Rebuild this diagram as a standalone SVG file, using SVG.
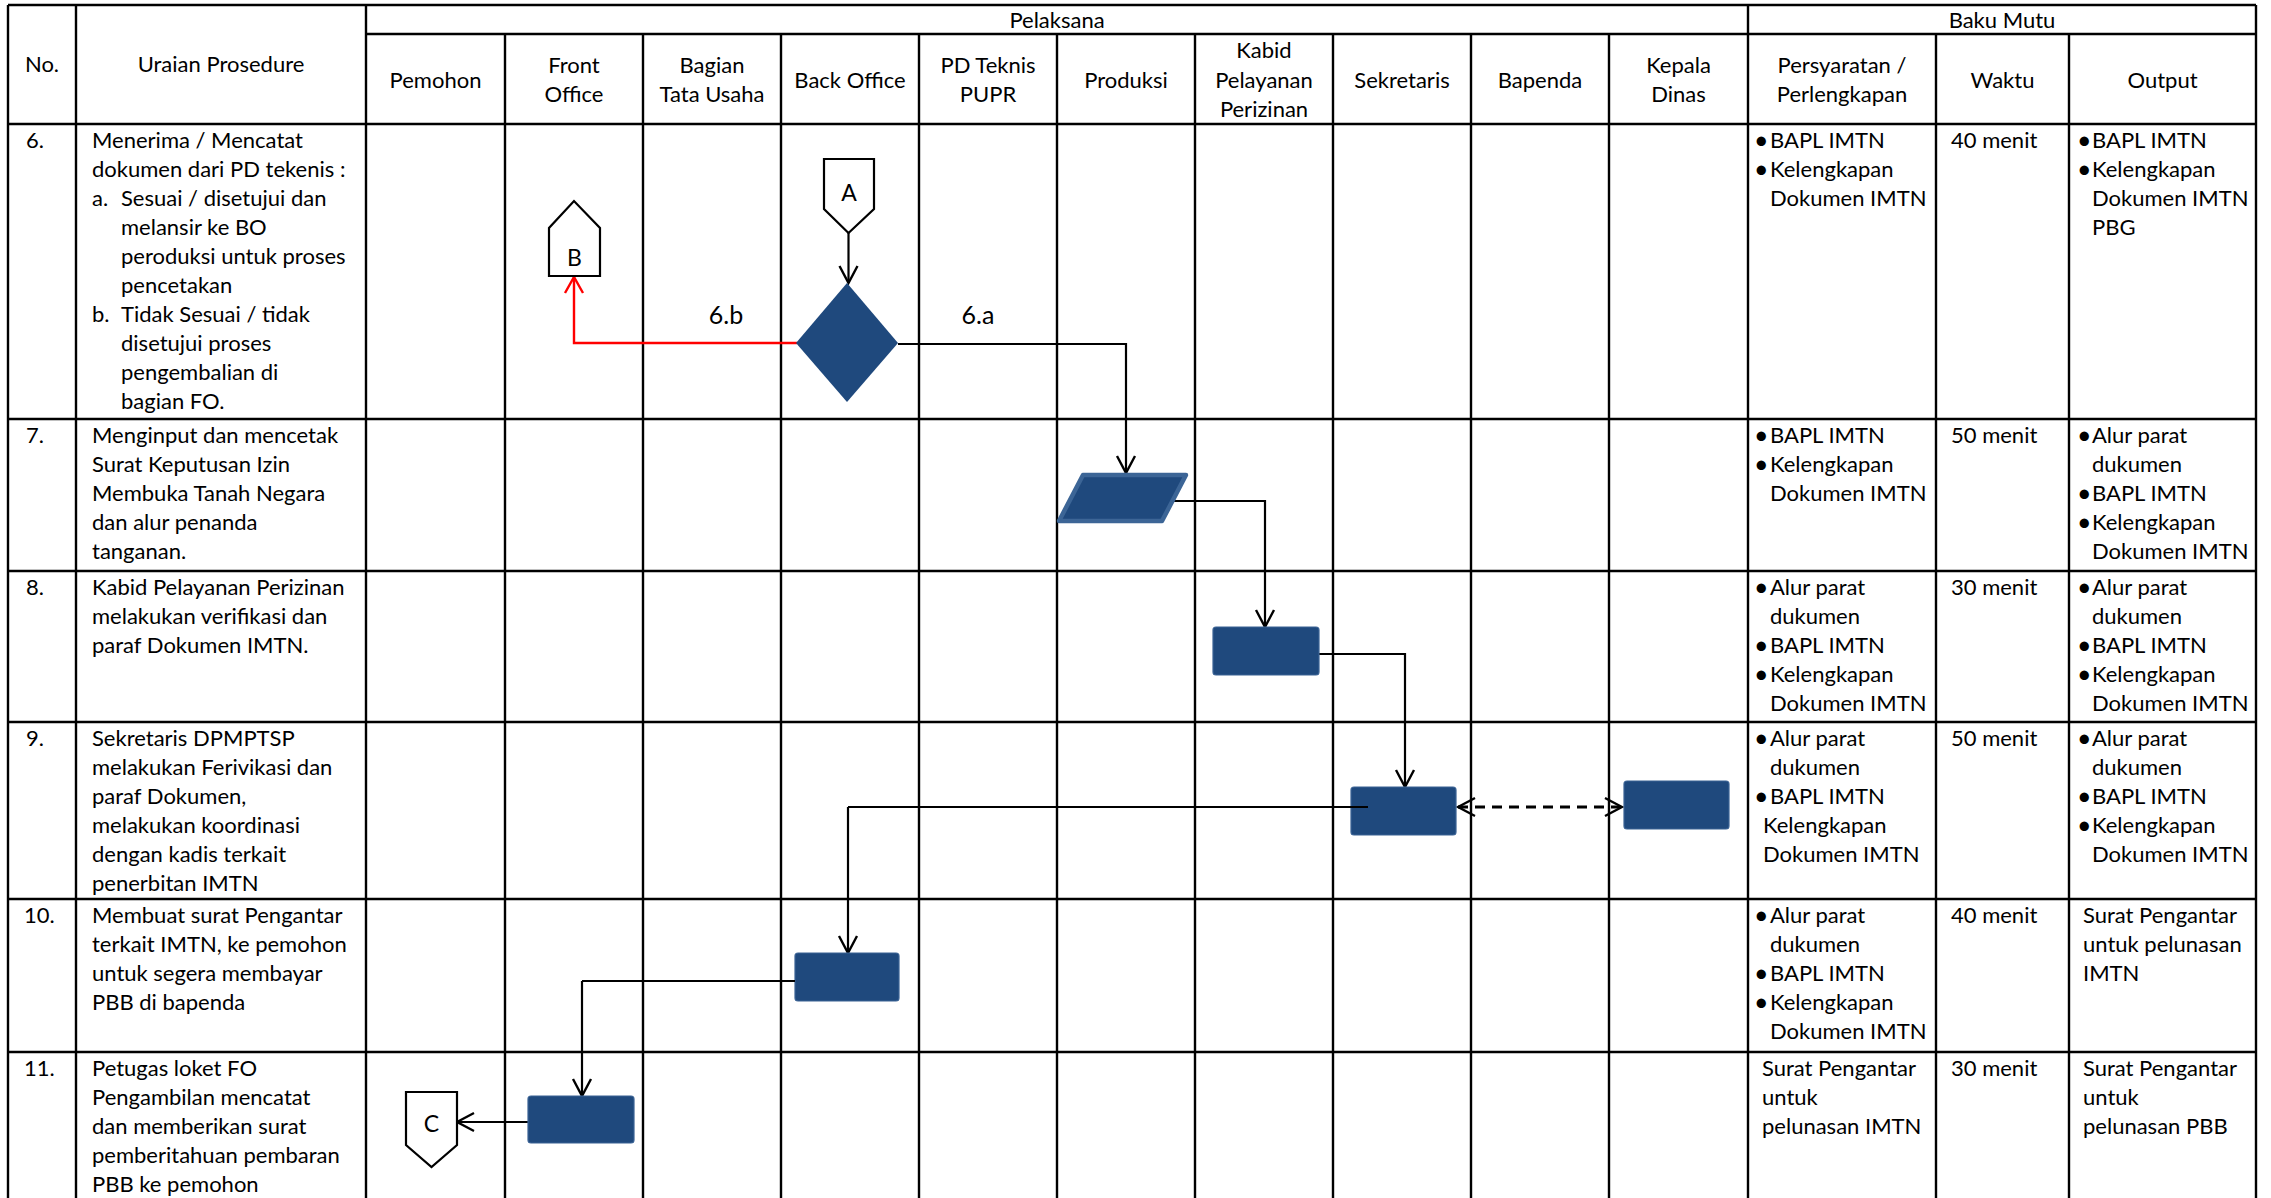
<svg xmlns="http://www.w3.org/2000/svg" width="2271" height="1198" viewBox="0 0 2271 1198">
<style>
.t{font-family:Lato,"Liberation Sans",sans-serif;font-size:22px;fill:#000}
.c{text-anchor:middle}
.b{font-size:25px}
.lb{font-size:25px}
.g{stroke:#000;stroke-width:2.4;fill:none}
.box{fill:#1F497D;stroke:#3A6294;stroke-width:1.2}
.conn{fill:#fff;stroke:#000;stroke-width:2.2}
.ln{fill:none;stroke:#000;stroke-width:2.2}
</style>
<defs>
<marker id="arr" viewBox="-20 -12 22 24" refX="0" refY="0" markerWidth="22" markerHeight="24" markerUnits="userSpaceOnUse" orient="auto-start-reverse">
<path d="M-17,-9 L0,0 L-17,9" fill="none" stroke="#000" stroke-width="2.4"/>
</marker>
<marker id="arrR" viewBox="-20 -12 22 24" refX="0" refY="0" markerWidth="22" markerHeight="24" markerUnits="userSpaceOnUse" orient="auto">
<path d="M-16,-9 L0,0 L-16,9" fill="none" stroke="#F00" stroke-width="2.4"/>
</marker>
</defs>
<rect width="2271" height="1198" fill="#fff"/>

<g id="grid" class="g">
<path d="M8,5 H2256 M8,5 V1198 M2256,5 V1198 M76,5 V1198 M366,5 V1198 M1748,5 V1198"/>
<path d="M366,34 H2256"/>
<path d="M505,34 V1198 M643,34 V1198 M781,34 V1198 M919,34 V1198 M1057,34 V1198 M1195,34 V1198 M1333,34 V1198 M1471,34 V1198 M1609,34 V1198 M1936,34 V1198 M2069,34 V1198"/>
<path d="M8,124 H2256 M8,419 H2256 M8,571 H2256 M8,722 H2256 M8,899 H2256 M8,1052 H2256"/>
</g>

<g id="header" class="t c">
<text x="42" y="72">No.</text>
<text x="221" y="72">Uraian Prosedure</text>
<text x="1057" y="28">Pelaksana</text>
<text x="2002" y="28">Baku Mutu</text>
<text x="435.5" y="88">Pemohon</text>
<text x="574" y="73">Front<tspan x="574" y="102">Office</tspan></text>
<text x="712" y="73">Bagian<tspan x="712" y="102">Tata Usaha</tspan></text>
<text x="850" y="88">Back Office</text>
<text x="988" y="73">PD Teknis<tspan x="988" y="102">PUPR</tspan></text>
<text x="1126" y="88">Produksi</text>
<text x="1264" y="58">Kabid<tspan x="1264" y="88">Pelayanan</tspan><tspan x="1264" y="117">Perizinan</tspan></text>
<text x="1402" y="88">Sekretaris</text>
<text x="1540" y="88">Bapenda</text>
<text x="1678.5" y="73">Kepala<tspan x="1678.5" y="102">Dinas</tspan></text>
<text x="1842" y="73">Persyaratan /<tspan x="1842" y="102">Perlengkapan</tspan></text>
<text x="2002.5" y="88">Waktu</text>
<text x="2162.5" y="88">Output</text>
</g>

<g id="uraian" class="t">
<text x="26" y="148">6.</text>
<text x="92" y="148">Menerima / Mencatat</text>
<text x="92" y="177">dokumen dari PD tekenis :</text>
<text x="92" y="206">a.</text>
<text x="121" y="206">Sesuai / disetujui dan</text>
<text x="121" y="235">melansir ke BO</text>
<text x="121" y="264">peroduksi untuk proses</text>
<text x="121" y="293">pencetakan</text>
<text x="92" y="322">b.</text>
<text x="121" y="322">Tidak Sesuai / tidak</text>
<text x="121" y="351">disetujui proses</text>
<text x="121" y="380">pengembalian di</text>
<text x="121" y="409">bagian FO.</text>

<text x="26" y="443">7.</text>
<text x="92" y="443">Menginput dan mencetak</text>
<text x="92" y="472">Surat Keputusan Izin</text>
<text x="92" y="501">Membuka Tanah Negara</text>
<text x="92" y="530">dan alur penanda</text>
<text x="92" y="559">tanganan.</text>

<text x="26" y="595">8.</text>
<text x="92" y="595">Kabid Pelayanan Perizinan</text>
<text x="92" y="624">melakukan verifikasi dan</text>
<text x="92" y="653">paraf Dokumen IMTN.</text>

<text x="26" y="746">9.</text>
<text x="92" y="746">Sekretaris DPMPTSP</text>
<text x="92" y="775">melakukan Ferivikasi dan</text>
<text x="92" y="804">paraf Dokumen,</text>
<text x="92" y="833">melakukan koordinasi</text>
<text x="92" y="862">dengan kadis terkait</text>
<text x="92" y="891">penerbitan IMTN</text>

<text x="24" y="923">10.</text>
<text x="92" y="923">Membuat surat Pengantar</text>
<text x="92" y="952">terkait IMTN, ke pemohon</text>
<text x="92" y="981">untuk segera membayar</text>
<text x="92" y="1010">PBB di bapenda</text>

<text x="24" y="1076">11.</text>
<text x="92" y="1076">Petugas loket FO</text>
<text x="92" y="1105">Pengambilan mencatat</text>
<text x="92" y="1134">dan memberikan surat</text>
<text x="92" y="1163">pemberitahuan pembaran</text>
<text x="92" y="1192">PBB ke pemohon</text>
</g>

<g id="baku-mutu" class="t">
<!-- row 6 -->
<text class="b" x="1754" y="149">•</text><text x="1770" y="148">BAPL IMTN</text>
<text class="b" x="1754" y="178">•</text><text x="1770" y="177">Kelengkapan</text>
<text x="1770" y="206">Dokumen IMTN</text>
<text x="1951" y="148">40 menit</text>
<text class="b" x="2077" y="149">•</text><text x="2092" y="148">BAPL IMTN</text>
<text class="b" x="2077" y="178">•</text><text x="2092" y="177">Kelengkapan</text>
<text x="2092" y="206">Dokumen IMTN</text>
<text x="2092" y="235">PBG</text>
<!-- row 7 -->
<text class="b" x="1754" y="444">•</text><text x="1770" y="443">BAPL IMTN</text>
<text class="b" x="1754" y="473">•</text><text x="1770" y="472">Kelengkapan</text>
<text x="1770" y="501">Dokumen IMTN</text>
<text x="1951" y="443">50 menit</text>
<text class="b" x="2077" y="444">•</text><text x="2092" y="443">Alur parat</text>
<text x="2092" y="472">dukumen</text>
<text class="b" x="2077" y="502">•</text><text x="2092" y="501">BAPL IMTN</text>
<text class="b" x="2077" y="531">•</text><text x="2092" y="530">Kelengkapan</text>
<text x="2092" y="559">Dokumen IMTN</text>
<!-- row 8 -->
<text class="b" x="1754" y="596">•</text><text x="1770" y="595">Alur parat</text>
<text x="1770" y="624">dukumen</text>
<text class="b" x="1754" y="654">•</text><text x="1770" y="653">BAPL IMTN</text>
<text class="b" x="1754" y="683">•</text><text x="1770" y="682">Kelengkapan</text>
<text x="1770" y="711">Dokumen IMTN</text>
<text x="1951" y="595">30 menit</text>
<text class="b" x="2077" y="596">•</text><text x="2092" y="595">Alur parat</text>
<text x="2092" y="624">dukumen</text>
<text class="b" x="2077" y="654">•</text><text x="2092" y="653">BAPL IMTN</text>
<text class="b" x="2077" y="683">•</text><text x="2092" y="682">Kelengkapan</text>
<text x="2092" y="711">Dokumen IMTN</text>
<!-- row 9 -->
<text class="b" x="1754" y="747">•</text><text x="1770" y="746">Alur parat</text>
<text x="1770" y="775">dukumen</text>
<text class="b" x="1754" y="805">•</text><text x="1770" y="804">BAPL IMTN</text>
<text x="1763" y="833">Kelengkapan</text>
<text x="1763" y="862">Dokumen IMTN</text>
<text x="1951" y="746">50 menit</text>
<text class="b" x="2077" y="747">•</text><text x="2092" y="746">Alur parat</text>
<text x="2092" y="775">dukumen</text>
<text class="b" x="2077" y="805">•</text><text x="2092" y="804">BAPL IMTN</text>
<text class="b" x="2077" y="834">•</text><text x="2092" y="833">Kelengkapan</text>
<text x="2092" y="862">Dokumen IMTN</text>
<!-- row 10 -->
<text class="b" x="1754" y="924">•</text><text x="1770" y="923">Alur parat</text>
<text x="1770" y="952">dukumen</text>
<text class="b" x="1754" y="982">•</text><text x="1770" y="981">BAPL IMTN</text>
<text class="b" x="1754" y="1011">•</text><text x="1770" y="1010">Kelengkapan</text>
<text x="1770" y="1039">Dokumen IMTN</text>
<text x="1951" y="923">40 menit</text>
<text x="2083" y="923">Surat Pengantar</text>
<text x="2083" y="952">untuk pelunasan</text>
<text x="2083" y="981">IMTN</text>
<!-- row 11 -->
<text x="1762" y="1076">Surat Pengantar</text>
<text x="1762" y="1105">untuk</text>
<text x="1762" y="1134">pelunasan IMTN</text>
<text x="1951" y="1076">30 menit</text>
<text x="2083" y="1076">Surat Pengantar</text>
<text x="2083" y="1105">untuk</text>
<text x="2083" y="1134">pelunasan PBB</text>
</g>

<g id="connectors">
<path class="ln" d="M848.5,233 V283" marker-end="url(#arr)"/>
<path d="M797,343 H574 V277" fill="none" stroke="#F00" stroke-width="2.4" marker-end="url(#arrR)"/>
<path class="ln" d="M898,344 H1126 V473" marker-end="url(#arr)"/>
<path class="ln" d="M1174,498 V501 H1265 V627" marker-end="url(#arr)"/>
<path class="ln" d="M1316,650 V654 H1405 V787" marker-end="url(#arr)"/>
<path d="M1458,807 H1622" fill="none" stroke="#000" stroke-width="3.2" stroke-dasharray="10 7" marker-start="url(#arr)" marker-end="url(#arr)"/>
<path class="ln" d="M848,807 V953" marker-end="url(#arr)"/>
<path class="ln" d="M582,981 V1096" marker-end="url(#arr)"/>
<path class="ln" d="M528,1122 H457" marker-end="url(#arr)"/>
</g>

<g id="node-B"><path class="conn" d="M549,276 V228 L574,201 L600,228 V276 Z"/><text class="t c" x="574.5" y="266" style="font-size:23px">B</text></g>
<g id="node-A"><path class="conn" d="M824,159 H874 V209 L848.5,233 L824,209 Z"/><text class="t c" x="849" y="201" style="font-size:23px">A</text></g>
<g id="node-C"><path class="conn" d="M406,1092 H457 V1145 L431.5,1167 L406,1145 Z"/><text class="t c" x="431.5" y="1132" style="font-size:23px">C</text></g>
<g id="node-decision"><path d="M847,283 L898,343 L847,402 L796,343 Z" fill="#1F497D"/></g>
<g id="node-input"><path d="M1083,475 H1186 L1162,521 H1059 Z" fill="#1F497D" stroke="#3C6596" stroke-width="4.5" stroke-linejoin="round"/></g>
<g id="node-kabid"><rect class="box" x="1213" y="627" width="106" height="48" rx="3"/></g>
<g id="node-sekretaris"><rect class="box" x="1351" y="787" width="105" height="48" rx="3"/></g>
<g id="node-kepala"><rect class="box" x="1624" y="781" width="105" height="48" rx="3"/></g>
<g id="node-bo"><rect class="box" x="795" y="953" width="104" height="48" rx="3"/></g>
<g id="node-fo"><rect class="box" x="528" y="1096" width="106" height="47" rx="3"/></g>

<g id="lines-over">
<path class="ln" d="M1368,807 H848"/>
<path class="ln" d="M795,981 H582"/>
</g>

<g id="labels" class="t c lb">
<text x="726" y="324">6.b</text>
<text x="978" y="324">6.a</text>
</g>
</svg>
